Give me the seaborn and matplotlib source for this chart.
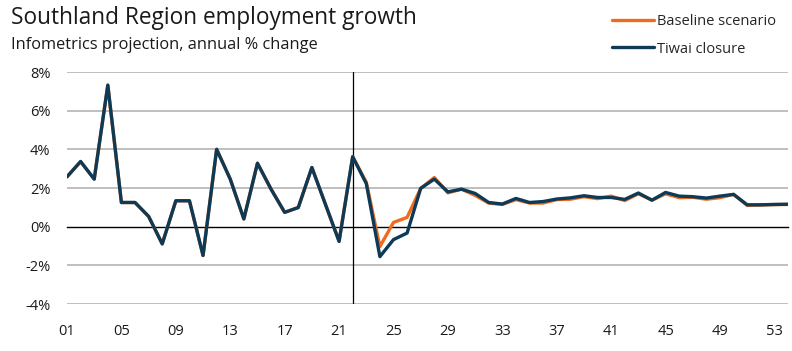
import matplotlib
matplotlib.use("Agg")
import matplotlib.pyplot as plt
from matplotlib.ticker import FuncFormatter
import seaborn as sns
import pandas as pd

years = list(range(2001, 2055))

tiwai_closure = [
    2.58, 3.37, 2.46, 7.32, 1.25, 1.25, 0.53, -0.89, 1.34, 1.34,
    -1.49, 4.00, 2.46, 0.40, 3.28, 1.94, 0.74, 0.99, 3.06, 1.15,
    -0.76, 3.62, 2.23, -1.55, -0.67, -0.33, 1.98, 2.46, 1.80, 1.94,
    1.72, 1.25, 1.17, 1.46, 1.25, 1.30, 1.43, 1.49, 1.60, 1.51,
    1.51, 1.41, 1.74, 1.37, 1.77, 1.58, 1.55, 1.48, 1.58, 1.67,
    1.13, 1.13, 1.15, 1.16,
]

baseline = [
    2.58, 3.37, 2.46, 7.32, 1.25, 1.25, 0.53, -0.89, 1.34, 1.34,
    -1.49, 4.00, 2.46, 0.40, 3.28, 1.94, 0.74, 0.99, 3.06, 1.15,
    -0.76, 3.62, 2.30, -1.03, 0.22, 0.48, 1.98, 2.54, 1.75, 1.94,
    1.62, 1.22, 1.15, 1.40, 1.22, 1.22, 1.40, 1.42, 1.55, 1.45,
    1.58, 1.35, 1.70, 1.37, 1.70, 1.50, 1.52, 1.42, 1.50, 1.67,
    1.10, 1.12, 1.14, 1.15,
]

series_names = ["Baseline scenario", "Tiwai closure"]
series_colors = ["#F26B1D", "#0D3A56"]
y_ticks = [-4, -2, 0, 2, 4, 6, 8]
x_ticks = list(range(2001, 2054, 4))
projection_start = 2022

df = pd.DataFrame({
    "year": years * 2,
    "value": baseline + tiwai_closure,
    "scenario": [series_names[0]] * len(years) + [series_names[1]] * len(years),
})

sns.set_theme(style="white")
plt.rcParams["font.family"] = ["Open Sans", "DejaVu Sans"]

fig = plt.figure(figsize=(7.92, 3.51), dpi=100)
ax = fig.add_axes([67 / 792, 47 / 351, 721 / 792, 232 / 351])

sns.lineplot(
    data=df, x="year", y="value", hue="scenario",
    hue_order=series_names, palette=series_colors,
    linewidth=2.4, ax=ax, legend=False,
)

ax.set_xlim(years[0], years[-1])
ax.set_ylim(-4, 8)
ax.set_yticks(y_ticks)
ax.yaxis.set_major_formatter(FuncFormatter(lambda v, _: f"{v:.0f}%"))
ax.set_xticks(x_ticks)
ax.set_xticklabels([f"{y % 100:02d}" for y in x_ticks])

for v in y_ticks:
    if v != 0:
        ax.axhline(v, color="#BFBFBF", linewidth=1.4, zorder=0)
ax.axvline(projection_start, color="black", linewidth=0.9, zorder=1)

for side in ["top", "right", "left"]:
    ax.spines[side].set_visible(False)
ax.spines["bottom"].set_position(("data", 0))
ax.spines["bottom"].set_color("black")
ax.spines["bottom"].set_linewidth(1.0)
ax.spines["bottom"].set_zorder(1)

ax.tick_params(axis="x", direction="out", length=4, width=1.0, color="black",
               pad=66, labelsize=10.5, labelcolor="#1a1a1a")
ax.tick_params(axis="y", length=0, pad=12, labelsize=10.5, labelcolor="#1a1a1a")
ax.set_xlabel("")
ax.set_ylabel("")

fig.text(11 / 792, 1 - 18 / 351, "Southland Region employment growth",
         fontsize=16.3, color="#1a1a1a", va="center", ha="left")
fig.text(11 / 792, 1 - 45 / 351, "Infometrics projection, annual % change",
         fontsize=11.8, color="#1a1a1a", va="center", ha="left")

handles = [plt.Line2D([], [], color=c, linewidth=2.4) for c in series_colors]
fig.legend(handles, series_names, loc="upper right",
           bbox_to_anchor=(792 / 792 - 0.003, 1 - 1 / 351),
           frameon=False, fontsize=10.5, handlelength=2.9,
           handletextpad=0.25, labelspacing=0.85)

fig.savefig("out.png", dpi=100)
